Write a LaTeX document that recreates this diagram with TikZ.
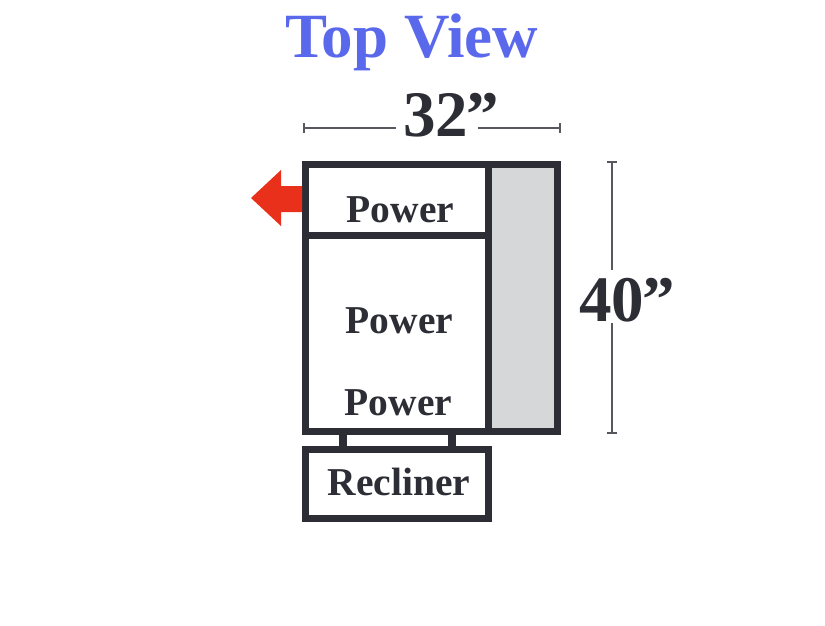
\documentclass[tikz,border=0pt]{standalone}
\usepackage{fontspec}
\setmainfont{Liberation Serif}
\usetikzlibrary{positioning,arrows.meta}
\definecolor{ink}{HTML}{2D2E35}
\definecolor{armgray}{HTML}{D6D7D9}
\definecolor{titleblue}{HTML}{5A69EB}
\definecolor{arrowred}{HTML}{E8301A}

\begin{document}
\begin{tikzpicture}[
    x = 1pt, y = -1pt,
    every node/.style = {text=ink, inner sep=0pt, outer sep=0pt, font=\bfseries},
    box/.style = {draw=ink, line width=7pt, shape=rectangle, minimum width=183pt},
    strut/.style = {draw=ink, line width=8pt},
    dimline/.style = {draw=ink!80, line width=2pt},
    seatlabel/.style = {anchor=base, font=\bfseries\fontsize{39.5}{40}\selectfont},
    dimlabel/.style = {anchor=base, font=\bfseries\fontsize{65}{66}\selectfont}]
  \useasboundingbox (0,0) rectangle (825,625);

  \node (upper) [box, minimum height=71pt, anchor=north west] at (305.5,164.5) {};
  \node (body) [box, minimum height=195.5pt, below = 0pt of upper] {};
  \node (arm) [box, fill=armgray, minimum width=68.5pt, minimum height=266.5pt,
    anchor=north west] at (upper.north east) {};
  \node (recliner) [box, minimum height=69.5pt, below = 18pt of body] {};

  % struts between seat and recliner
  \coordinate (sl) at (343,431);
  \coordinate (sr) at (452,431);
  \draw[strut] (sl) -- (sl |- recliner.north);
  \draw[strut] (sr) -- (sr |- recliner.north);

  \node (title) [anchor=base, text=titleblue, font=\bfseries\fontsize{63}{64}\selectfont]
    at (412,57) {Top View};
  \node (power a) [seatlabel] at (400.5,222) {Power};
  \node (power b) [seatlabel] at (399.5,333) {Power};
  \node (power c) [seatlabel] at (398.5,415) {Power};
  \node (recl) [seatlabel] at (399,495) {Recliner};

  % width
  \node (width) [dimlabel] at (451,136) {32\kern-2pt”};
  \coordinate (wl) at (302.5,128);
  \coordinate (wr) at (560.5,128);
  \coordinate (wa) at (396,128);
  \coordinate (wb) at (478,128);
  \draw[dimline, {Bar[width=10pt]}-] (wl) -- (wa);
  \draw[dimline, -{Bar[width=10pt]}] (wb) -- (wr);

  % depth
  \node (depth) [dimlabel] at (627,321) {40\kern-2pt”};
  \coordinate (dt) at (611.5,161);
  \coordinate (da) at (611.5,270);
  \coordinate (db) at (611.5,323);
  \coordinate (dc) at (611.5,434);
  \draw[dimline, {Bar[width=10pt]}-] (dt) -- (da);
  \draw[dimline, -{Bar[width=10pt]}] (db) -- (dc);

  % recline direction
  \fill[arrowred] (302,186) -- (281,186) -- (281,170) -- (251,198)
    -- (281,226) -- (281,212) -- (302,212) -- cycle;
\end{tikzpicture}
\end{document}
